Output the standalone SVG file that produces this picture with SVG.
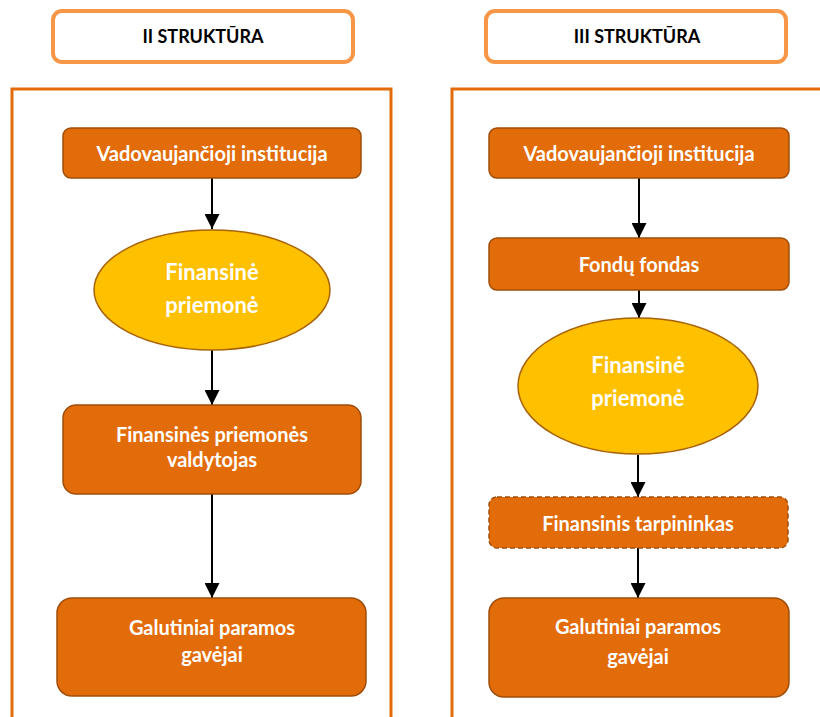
<svg xmlns="http://www.w3.org/2000/svg" width="820" height="717" viewBox="0 0 820 717">
<style>
.hdr{fill:#fff;stroke:#F79646;stroke-width:4}
.panel{fill:none;stroke:#E36C0A;stroke-width:3}
.box{fill:#E36C0A;stroke:#A04D08;stroke-width:1.5}
.dash{stroke-dasharray:5 3}
.ell{fill:#FFC000;stroke:#A8620A;stroke-width:1.5}
.t{font-family:Lato,"Open Sans","Liberation Sans",sans-serif;font-weight:bold;fill:#fff;text-anchor:middle;font-size:20px}
.te{font-size:22px}
.th{font-family:Lato,"Open Sans","Liberation Sans",sans-serif;font-weight:bold;fill:#000;text-anchor:middle;font-size:18px}
.c{stroke:#000;stroke-width:2;fill:none;marker-end:url(#ah)}
</style>
<defs>
<marker id="ah" viewBox="0 0 15 15" refX="15" refY="7.5" markerWidth="15" markerHeight="15" markerUnits="userSpaceOnUse" orient="auto">
<path d="M0,0 L15,7.5 L0,15 Z" fill="#000"/>
</marker>
</defs>
<rect width="820" height="717" fill="#fff"/>
<g id="header-II"><rect class="hdr" x="53" y="11" width="300" height="51" rx="9"/><text class="th" x="203" y="43">II STRUKTŪRA</text></g>
<g id="header-III"><rect class="hdr" x="486" y="11" width="300" height="51" rx="9"/><text class="th" x="637" y="43">III STRUKTŪRA</text></g>
<g id="panel-II"><rect class="panel" x="12" y="89" width="379" height="640"/></g>
<g id="panel-III"><path class="panel" d="M452,730 V89 H830"/></g>

<g id="connectors">
<path class="c" d="M212,178 V229"/>
<path class="c" d="M212,350 V405"/>
<path class="c" d="M212,494 V598"/>
<path class="c" d="M639,178 V238"/>
<path class="c" d="M639,290 V318"/>
<path class="c" d="M638,455 V497"/>
<path class="c" d="M638,548 V598"/>
</g>

<g id="l-vi"><rect class="box" x="63" y="128" width="298" height="50" rx="8"/><text class="t" x="212" y="161">Vadovaujančioji institucija</text></g>
<g id="l-fp"><ellipse class="ell" cx="212" cy="290" rx="118" ry="60"/><text class="t te" x="212" y="280">Finansinė</text><text class="t te" x="212" y="313">priemonė</text></g>
<g id="l-fpv"><rect class="box" x="63" y="405" width="298" height="89" rx="13"/><text class="t" x="212" y="442">Finansinės priemonės</text><text class="t" x="212" y="467">valdytojas</text></g>
<g id="l-gpg"><rect class="box" x="57" y="598" width="309" height="98" rx="15"/><text class="t" x="212" y="635">Galutiniai paramos</text><text class="t" x="212" y="662">gavėjai</text></g>

<g id="r-vi"><rect class="box" x="489" y="128" width="300" height="50" rx="8"/><text class="t" x="639" y="161">Vadovaujančioji institucija</text></g>
<g id="r-ff"><rect class="box" x="489" y="238" width="300" height="52" rx="8"/><text class="t" x="639" y="272">Fondų fondas</text></g>
<g id="r-fp"><ellipse class="ell" cx="638" cy="386" rx="120" ry="68"/><text class="t te" x="638" y="373">Finansinė</text><text class="t te" x="638" y="406">priemonė</text></g>
<g id="r-ft"><rect class="box dash" x="489" y="497" width="299" height="51" rx="8"/><text class="t" x="638" y="531">Finansinis tarpininkas</text></g>
<g id="r-gpg"><rect class="box" x="489" y="598" width="300" height="99" rx="15"/><text class="t" x="638" y="634">Galutiniai paramos</text><text class="t" x="638" y="664">gavėjai</text></g>
</svg>
